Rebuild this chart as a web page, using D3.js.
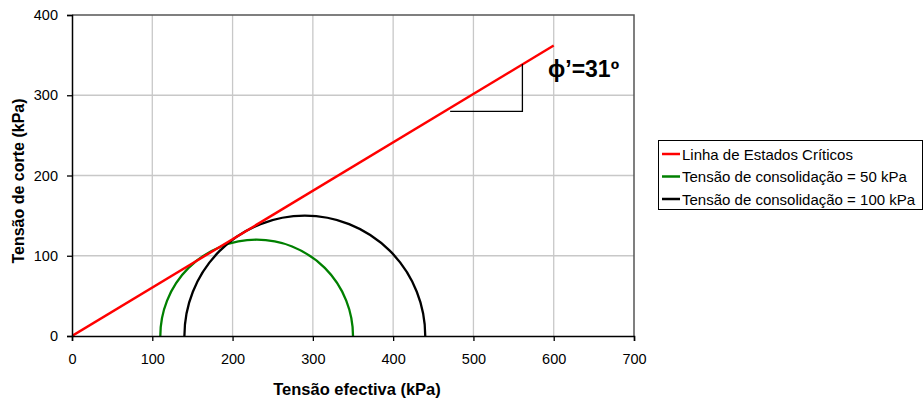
<!DOCTYPE html>
<html><head><meta charset="utf-8">
<script src="https://cdn.jsdelivr.net/npm/d3@7"></script>
<style>body{margin:0;background:#fff}svg{display:block}text{font-family:Arial,"Liberation Sans",sans-serif}</style>
</head><body><svg id="c" width="924" height="400"></svg>
<script>
const xTicks=[0,100,200,300,400,500,600,700];
const yTicks=[0,100,200,300,400];
const cslLine=[[0,0],[600,362]];
const sigma3=[110,140];
const sigma1=[350,440];
const seriesNames=["Linha de Estados Críticos","Tensão de consolidação = 50 kPa","Tensão de consolidação = 100 kPa"];
const seriesColors=["#ff0000","#008000","#000000"];
const angleLabel="\u03d5’=31º";
const slopeTriangle=[[471,280],[561,280],[561,339]];

const svg=d3.select("#c");
const L=72,R=634,T=15,B=336;
const x=d3.scaleLinear().domain([0,700]).range([L,R]);
const y=d3.scaleLinear().domain([0,400]).range([B,T]);

// grid
svg.append("g").selectAll("line").data(xTicks.filter(d=>d>0&&d<700)).join("line")
 .attr("x1",d=>x(d)).attr("x2",d=>x(d)).attr("y1",T).attr("y2",B).attr("stroke","#c8c8c8").attr("stroke-width",1.3);
svg.append("g").selectAll("line").data(yTicks.filter(d=>d>0&&d<400)).join("line")
 .attr("y1",d=>y(d)).attr("y2",d=>y(d)).attr("x1",L).attr("x2",R).attr("stroke","#c8c8c8").attr("stroke-width",1.3);
// frame top/right
svg.append("path").attr("d",`M${L},${T}H${R}V${B}`).attr("fill","none").attr("stroke","#555").attr("stroke-width",1.5);

svg.append("defs").append("clipPath").attr("id","pc").append("rect").attr("x",L).attr("y",T-2).attr("width",R-L).attr("height",B-T+2);
const plot=svg.append("g").attr("clip-path","url(#pc)");

// Mohr circles (upper halves)
sigma3.forEach((s3,i)=>{
  const s1=sigma1[i], r=(s1-s3)/2;
  const rx=x(r)-x(0), ry=y(0)-y(r);
  plot.append("path").attr("d",`M${x(s3)},${y(0)}A${rx},${ry} 0 0 1 ${x(s1)},${y(0)}`)
   .attr("fill","none").attr("stroke",seriesColors[i+1]).attr("stroke-width",2.3);
});
// CSL line
plot.append("path").attr("d",d3.line().x(d=>x(d[0])).y(d=>y(d[1]))(cslLine))
 .attr("fill","none").attr("stroke",seriesColors[0]).attr("stroke-width",2.4);

// slope triangle
svg.append("path").attr("d",d3.line().x(d=>x(d[0])).y(d=>y(d[1]))(slopeTriangle))
 .attr("fill","none").attr("stroke","#000").attr("stroke-width",1.3);
svg.append("text").attr("x",548).attr("y",77).attr("font-size",23).attr("font-weight","bold").attr("fill","#000").text(angleLabel);

// axes
const xa=svg.append("g").attr("transform",`translate(0,${B})`).call(d3.axisBottom(x).tickValues(xTicks).tickSize(5).tickPadding(13));
const ya=svg.append("g").attr("transform",`translate(${L},0)`).call(d3.axisLeft(y).tickValues(yTicks).tickSize(5).tickPadding(9));
[xa,ya].forEach(a=>{a.select(".domain").attr("stroke","#000").attr("stroke-width",1.5);
 a.selectAll(".tick line").attr("stroke","#000").attr("stroke-width",1.3);
 a.selectAll("text").attr("font-size",14.5).attr("fill","#000").style("font-family","Arial,'Liberation Sans',sans-serif");});

svg.append("text").attr("x",357).attr("y",395).attr("text-anchor","middle").attr("font-size",16.5).attr("font-weight","bold").text("Tensão efectiva (kPa)");
svg.append("text").attr("transform","translate(24,181) rotate(-90)").attr("text-anchor","middle").attr("font-size",16).attr("font-weight","bold").text("Tensão de corte (kPa)");

// legend
const lg=svg.append("g");
lg.append("rect").attr("x",658.5).attr("y",140.5).attr("width",264).attr("height",69).attr("fill","#fff").attr("stroke","#000").attr("stroke-width",1);
seriesNames.forEach((n,i)=>{
  const yy=154+i*22.5;
  lg.append("line").attr("x1",662).attr("x2",680).attr("y1",yy).attr("y2",yy).attr("stroke",seriesColors[i]).attr("stroke-width",2.5);
  lg.append("text").attr("x",682).attr("y",yy+5.5).attr("font-size",15).attr("fill","#000").text(n);
});
</script></body></html>
